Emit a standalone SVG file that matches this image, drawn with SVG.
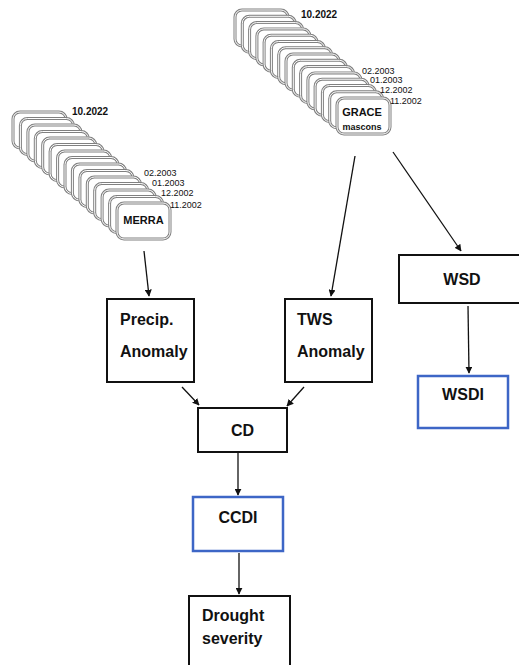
<svg xmlns="http://www.w3.org/2000/svg" width="519" height="665" viewBox="0 0 519 665">
<defs>
<style>
.card-o{fill:#fff;stroke:#808080;stroke-width:3}
.card-i{fill:none;stroke:#fff;stroke-width:1}
.box{fill:#fff;stroke:#111;stroke-width:2}
.blue{fill:#fff;stroke:#3d66c6;stroke-width:2.5}
.lbl{font-family:"Liberation Sans",Arial,sans-serif;font-weight:bold;font-size:16px;fill:#111}
.date{font-family:"Liberation Sans",Arial,sans-serif;font-size:9px;fill:#111}
.dateb{font-family:"Liberation Sans",Arial,sans-serif;font-size:10px;font-weight:bold;fill:#111}
.cardt{font-family:"Liberation Sans",Arial,sans-serif;font-weight:bold;fill:#111}
.conn{stroke:#111;stroke-width:1.3;fill:none;marker-end:url(#ah)}
</style>
<marker id="ah" viewBox="0 0 10 10" refX="9" refY="5" markerWidth="7" markerHeight="7" markerUnits="userSpaceOnUse" orient="auto">
<path d="M0,0 L10,5 L0,10 z" fill="#111"/>
</marker>
<g id="card">
<rect class="card-o" x="0" y="0" width="53" height="36" rx="7"/>
<rect class="card-i" x="0" y="0" width="53" height="36" rx="7"/>
</g>
</defs>
<rect width="519" height="665" fill="#fff"/>

<g id="merra">
<use href="#card" x="13" y="112"/>
<use href="#card" x="20.4" y="118.5"/>
<use href="#card" x="27.9" y="125"/>
<use href="#card" x="35.3" y="131.5"/>
<use href="#card" x="42.7" y="138"/>
<use href="#card" x="50.1" y="144.5"/>
<use href="#card" x="57.6" y="151"/>
<use href="#card" x="65" y="157.5"/>
<use href="#card" x="72.4" y="164"/>
<use href="#card" x="79.9" y="170.5"/>
<use href="#card" x="87.3" y="177"/>
<use href="#card" x="94.7" y="183.5"/>
<use href="#card" x="102.1" y="190"/>
<use href="#card" x="109.6" y="196.5"/>
<use href="#card" x="117" y="203"/>
<text class="cardt" x="143.5" y="224" font-size="11" text-anchor="middle">MERRA</text>
<text class="dateb" x="72" y="115">10.2022</text>
<text class="date" x="144" y="176">02.2003</text>
<text class="date" x="152" y="186">01.2003</text>
<text class="date" x="161" y="196">12.2002</text>
<text class="date" x="170" y="208">11.2002</text>
</g>

<g id="grace">
<use href="#card" x="235" y="10"/>
<use href="#card" x="242.3" y="16.3"/>
<use href="#card" x="249.6" y="22.6"/>
<use href="#card" x="256.9" y="28.9"/>
<use href="#card" x="264.1" y="35.2"/>
<use href="#card" x="271.4" y="41.5"/>
<use href="#card" x="278.7" y="47.7"/>
<use href="#card" x="286" y="54"/>
<use href="#card" x="293.3" y="60.3"/>
<use href="#card" x="300.6" y="66.6"/>
<use href="#card" x="307.9" y="72.9"/>
<use href="#card" x="315.1" y="79.2"/>
<use href="#card" x="322.4" y="85.5"/>
<use href="#card" x="329.7" y="91.8"/>
<use href="#card" x="337" y="98"/>
<text class="cardt" x="362" y="116" font-size="11" text-anchor="middle">GRACE</text>
<text class="cardt" x="362" y="130" font-size="9" text-anchor="middle">mascons</text>
<text class="dateb" x="301" y="18">10.2022</text>
<text class="date" x="362" y="74">02.2003</text>
<text class="date" x="370" y="83">01.2003</text>
<text class="date" x="380" y="93">12.2002</text>
<text class="date" x="390" y="104">11.2002</text>
</g>

<g id="precip">
<rect class="box" x="107" y="299" width="87" height="83"/>
<text class="lbl" x="120" y="325">Precip.</text>
<text class="lbl" x="120" y="357">Anomaly</text>
</g>
<g id="tws">
<rect class="box" x="285" y="299" width="87" height="83"/>
<text class="lbl" x="297" y="325">TWS</text>
<text class="lbl" x="297" y="357">Anomaly</text>
</g>
<g id="wsd">
<rect class="box" x="399" y="255" width="125" height="48"/>
<text class="lbl" x="462" y="285" text-anchor="middle">WSD</text>
</g>
<g id="wsdi">
<rect class="blue" x="418" y="376" width="90" height="52"/>
<text class="lbl" x="463" y="400" text-anchor="middle">WSDI</text>
</g>
<g id="cd">
<rect class="box" x="198" y="408" width="89" height="44"/>
<text class="lbl" x="242.5" y="436" text-anchor="middle">CD</text>
</g>
<g id="ccdi">
<rect class="blue" x="193" y="497" width="90" height="54"/>
<text class="lbl" x="238" y="523" text-anchor="middle">CCDI</text>
</g>
<g id="drought">
<rect class="box" x="189" y="596" width="101" height="80"/>
<text class="lbl" x="202" y="621">Drought</text>
<text class="lbl" x="202" y="644">severity</text>
</g>

<g id="connectors">
<line class="conn" x1="144" y1="251" x2="149" y2="296"/>
<line class="conn" x1="355" y1="156" x2="331" y2="296"/>
<line class="conn" x1="393" y1="152" x2="461" y2="251"/>
<line class="conn" x1="182" y1="387" x2="199" y2="405"/>
<line class="conn" x1="304" y1="387" x2="287" y2="406"/>
<line class="conn" x1="238" y1="453" x2="238" y2="495"/>
<line class="conn" x1="239" y1="553" x2="239" y2="594"/>
<line class="conn" x1="468" y1="306" x2="469" y2="373"/>
</g>
</svg>
